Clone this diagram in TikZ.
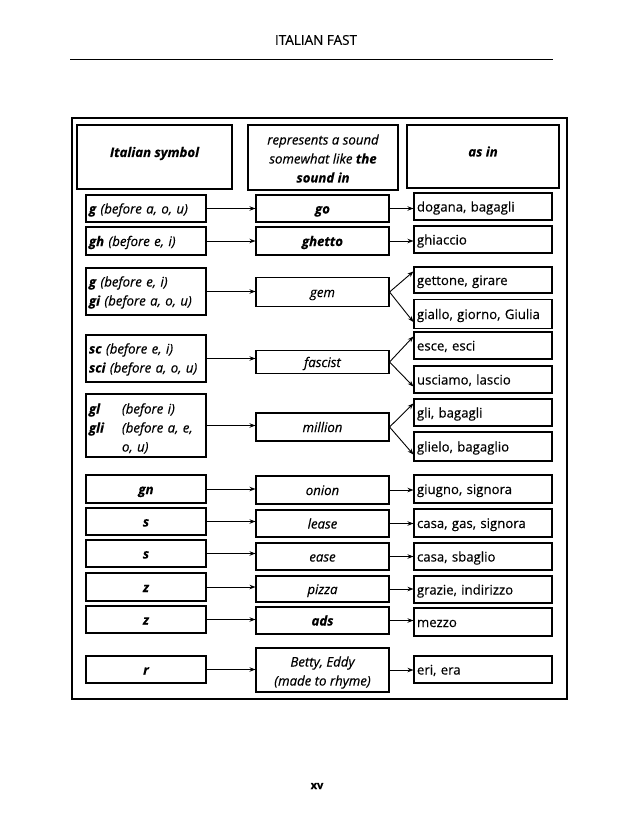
\documentclass[tikz,border=0pt]{standalone}
\usepackage{fontspec}
\setmainfont{Open Sans}[FakeBold=0.4]
\usetikzlibrary{arrows.meta,calc}
\begin{document}
\begin{tikzpicture}[x=1pt,y=-1pt,
  base/.style={draw, line width=1.1pt, inner sep=0pt, text height=11pt, text depth=1pt, font=\fontsize{13.2}{19}\selectfont},
  hbox/.style={base, align=center, text height=5pt, text depth=5pt, font=\fontsize{13.2}{19}\selectfont\itshape},
  lboxl/.style={base, minimum width=120pt, text width=114pt, inner xsep=3pt, align=left, font=\fontsize{13.2}{19}\selectfont\itshape},
  lboxc/.style={base, minimum width=120pt, align=center, font=\fontsize{13.2}{19}\selectfont\itshape\bfseries},
  mbox/.style={base, minimum width=133pt, align=center, font=\fontsize{13.2}{19}\selectfont\itshape},
  rbox/.style={base, minimum width=138pt, text width=132pt, inner xsep=3pt, align=left},
  arr/.style={line width=0.9pt, -{Stealth[length=6pt,width=4.5pt]}}
]
\useasboundingbox (0,0) rectangle (638,826);
\fill[white] (0,0) rectangle (638,826);

% page header and footer
\node[font=\fontsize{13.5}{15}\selectfont] (title) at (316,40) {ITALIAN FAST};
\draw[line width=1pt] (70,59.5) -- (553,59.5);
\node[font=\fontsize{11}{12}\selectfont\bfseries] (pg) at (317,786) {xv};

% outer frame
\draw[line width=2.5pt] (72,118) rectangle (567,699);

% header boxes
\node[hbox, minimum width=155pt, minimum height=64pt] (h1) at (154.5,157) {\bfseries Italian symbol};
\node[hbox, text height=50pt, text depth=0pt, minimum width=150pt, minimum height=65pt] (h2) at (323,157.5) {represents a sound\\somewhat like {\bfseries the}\\{\bfseries sound in}};
\node[hbox, minimum width=152pt, minimum height=63pt] (h3) at (483,156.5) {\bfseries as in};

% row 1
\node[lboxl, minimum height=27pt] (l1) at (146,208.5) {\textbf{g} (before a, o, u)};
\node[mbox, minimum height=27pt] (m1) at (322.5,208.5) {\textbf{go}};
\node[rbox, minimum height=27pt] (r1) at (483,206.5) {dogana, bagagli};

% row 2
\node[lboxl, minimum height=28pt] (l2) at (146,241) {\textbf{gh} (before e, i)};
\node[mbox, minimum height=28pt] (m2) at (322.5,241) {\textbf{ghetto}};
\node[rbox, minimum height=27pt] (r2) at (483,239.5) {ghiaccio};

% row 3
\node[lboxl, text height=1pt, text depth=11pt, minimum height=47pt] (l3) at (146,291.5) {\textbf{g} (before e, i)\\\textbf{gi} (before a, o, u)};
\node[mbox, minimum height=29pt] (m3) at (322.5,292) {gem};
\node[rbox, minimum height=26pt] (r3a) at (483,280) {gettone, girare};
\node[rbox, minimum height=29pt] (r3b) at (483,314) {giallo, giorno, Giulia};

% row 4
\node[lboxl, text height=1pt, text depth=11pt, minimum height=47pt] (l4) at (146,358.5) {\textbf{sc} (before e, i)\\\textbf{sci} (before a, o, u)};
\node[mbox, minimum height=23pt] (m4) at (322.5,362) {fascist};
\node[rbox, minimum height=27pt] (r4a) at (483,345.5) {esce, esci};
\node[rbox, minimum height=27pt] (r4b) at (483,379.5) {usciamo, lascio};

% row 5
\node[lboxl, text height=1pt, text depth=25pt, minimum height=63pt] (l5) at (146,425.5) {\makebox[33pt][l]{\textbf{gl}}(before i)\\\makebox[33pt][l]{\textbf{gli}}(before a, e,\\\hspace*{33pt}o, u)};
\node[mbox, minimum height=28pt] (m5) at (322.5,427) {million};
\node[rbox, minimum height=27pt] (r5a) at (483,412.5) {gli, bagagli};
\node[rbox, minimum height=29pt] (r5b) at (483,446.5) {glielo, bagaglio};

% row 6
\node[lboxc, minimum height=28pt] (l6) at (146,489) {gn};
\node[mbox, minimum height=28pt] (m6) at (322.5,490) {onion};
\node[rbox, minimum height=28pt] (r6) at (483,489) {giugno, signora};

% row 7
\node[lboxc, minimum height=27pt] (l7) at (146,521.5) {s};
\node[mbox, minimum height=27pt] (m7) at (322.5,523.5) {lease};
\node[rbox, minimum height=28pt] (r7) at (483,523) {casa, gas, signora};

% row 8
\node[lboxc, minimum height=27pt] (l8) at (146,553.5) {s};
\node[mbox, minimum height=27pt] (m8) at (322.5,556.5) {ease};
\node[rbox, minimum height=27pt] (r8) at (483,556.5) {casa, sbaglio};

% row 9
\node[lboxc, minimum height=28pt] (l9) at (146,587) {z};
\node[mbox, minimum height=26pt] (m9) at (322.5,589) {pizza};
\node[rbox, minimum height=27pt] (r9) at (483,589.5) {grazie, indirizzo};

% row 10
\node[lboxc, minimum height=27pt] (l10) at (146,619.5) {z};
\node[mbox, minimum height=27pt] (m10) at (322.5,620.5) {\textbf{ads}};
\node[rbox, minimum height=28pt] (r10) at (483,622) {mezzo};

% row 11
\node[lboxc, minimum height=27pt] (l11) at (146,669.5) {r};
\node[mbox, text height=31pt, text depth=0pt, minimum height=44pt] (m11) at (322.5,670) {Betty, Eddy\\(made to rhyme)};
\node[rbox, minimum height=27pt] (r11) at (483,669.5) {eri, era};

% left -> middle arrows
\foreach \i in {1,...,11}{
  \draw[arr] (l\i.east) -- (l\i.east -| m\i.west);
}
% middle -> right single arrows
\foreach \i in {1,2,6,7,8,9,10,11}{
  \draw[arr] (m\i.east) -- (m\i.east -| r\i.west);
}
% forks
\foreach \i in {3,4,5}{
  \draw[arr] (m\i.east) -- ($(r\i a.north west)+(0,5)$);
  \draw[arr] (m\i.east) -- ($(r\i b.south west)+(0,-7)$);
}
\end{tikzpicture}
\end{document}
